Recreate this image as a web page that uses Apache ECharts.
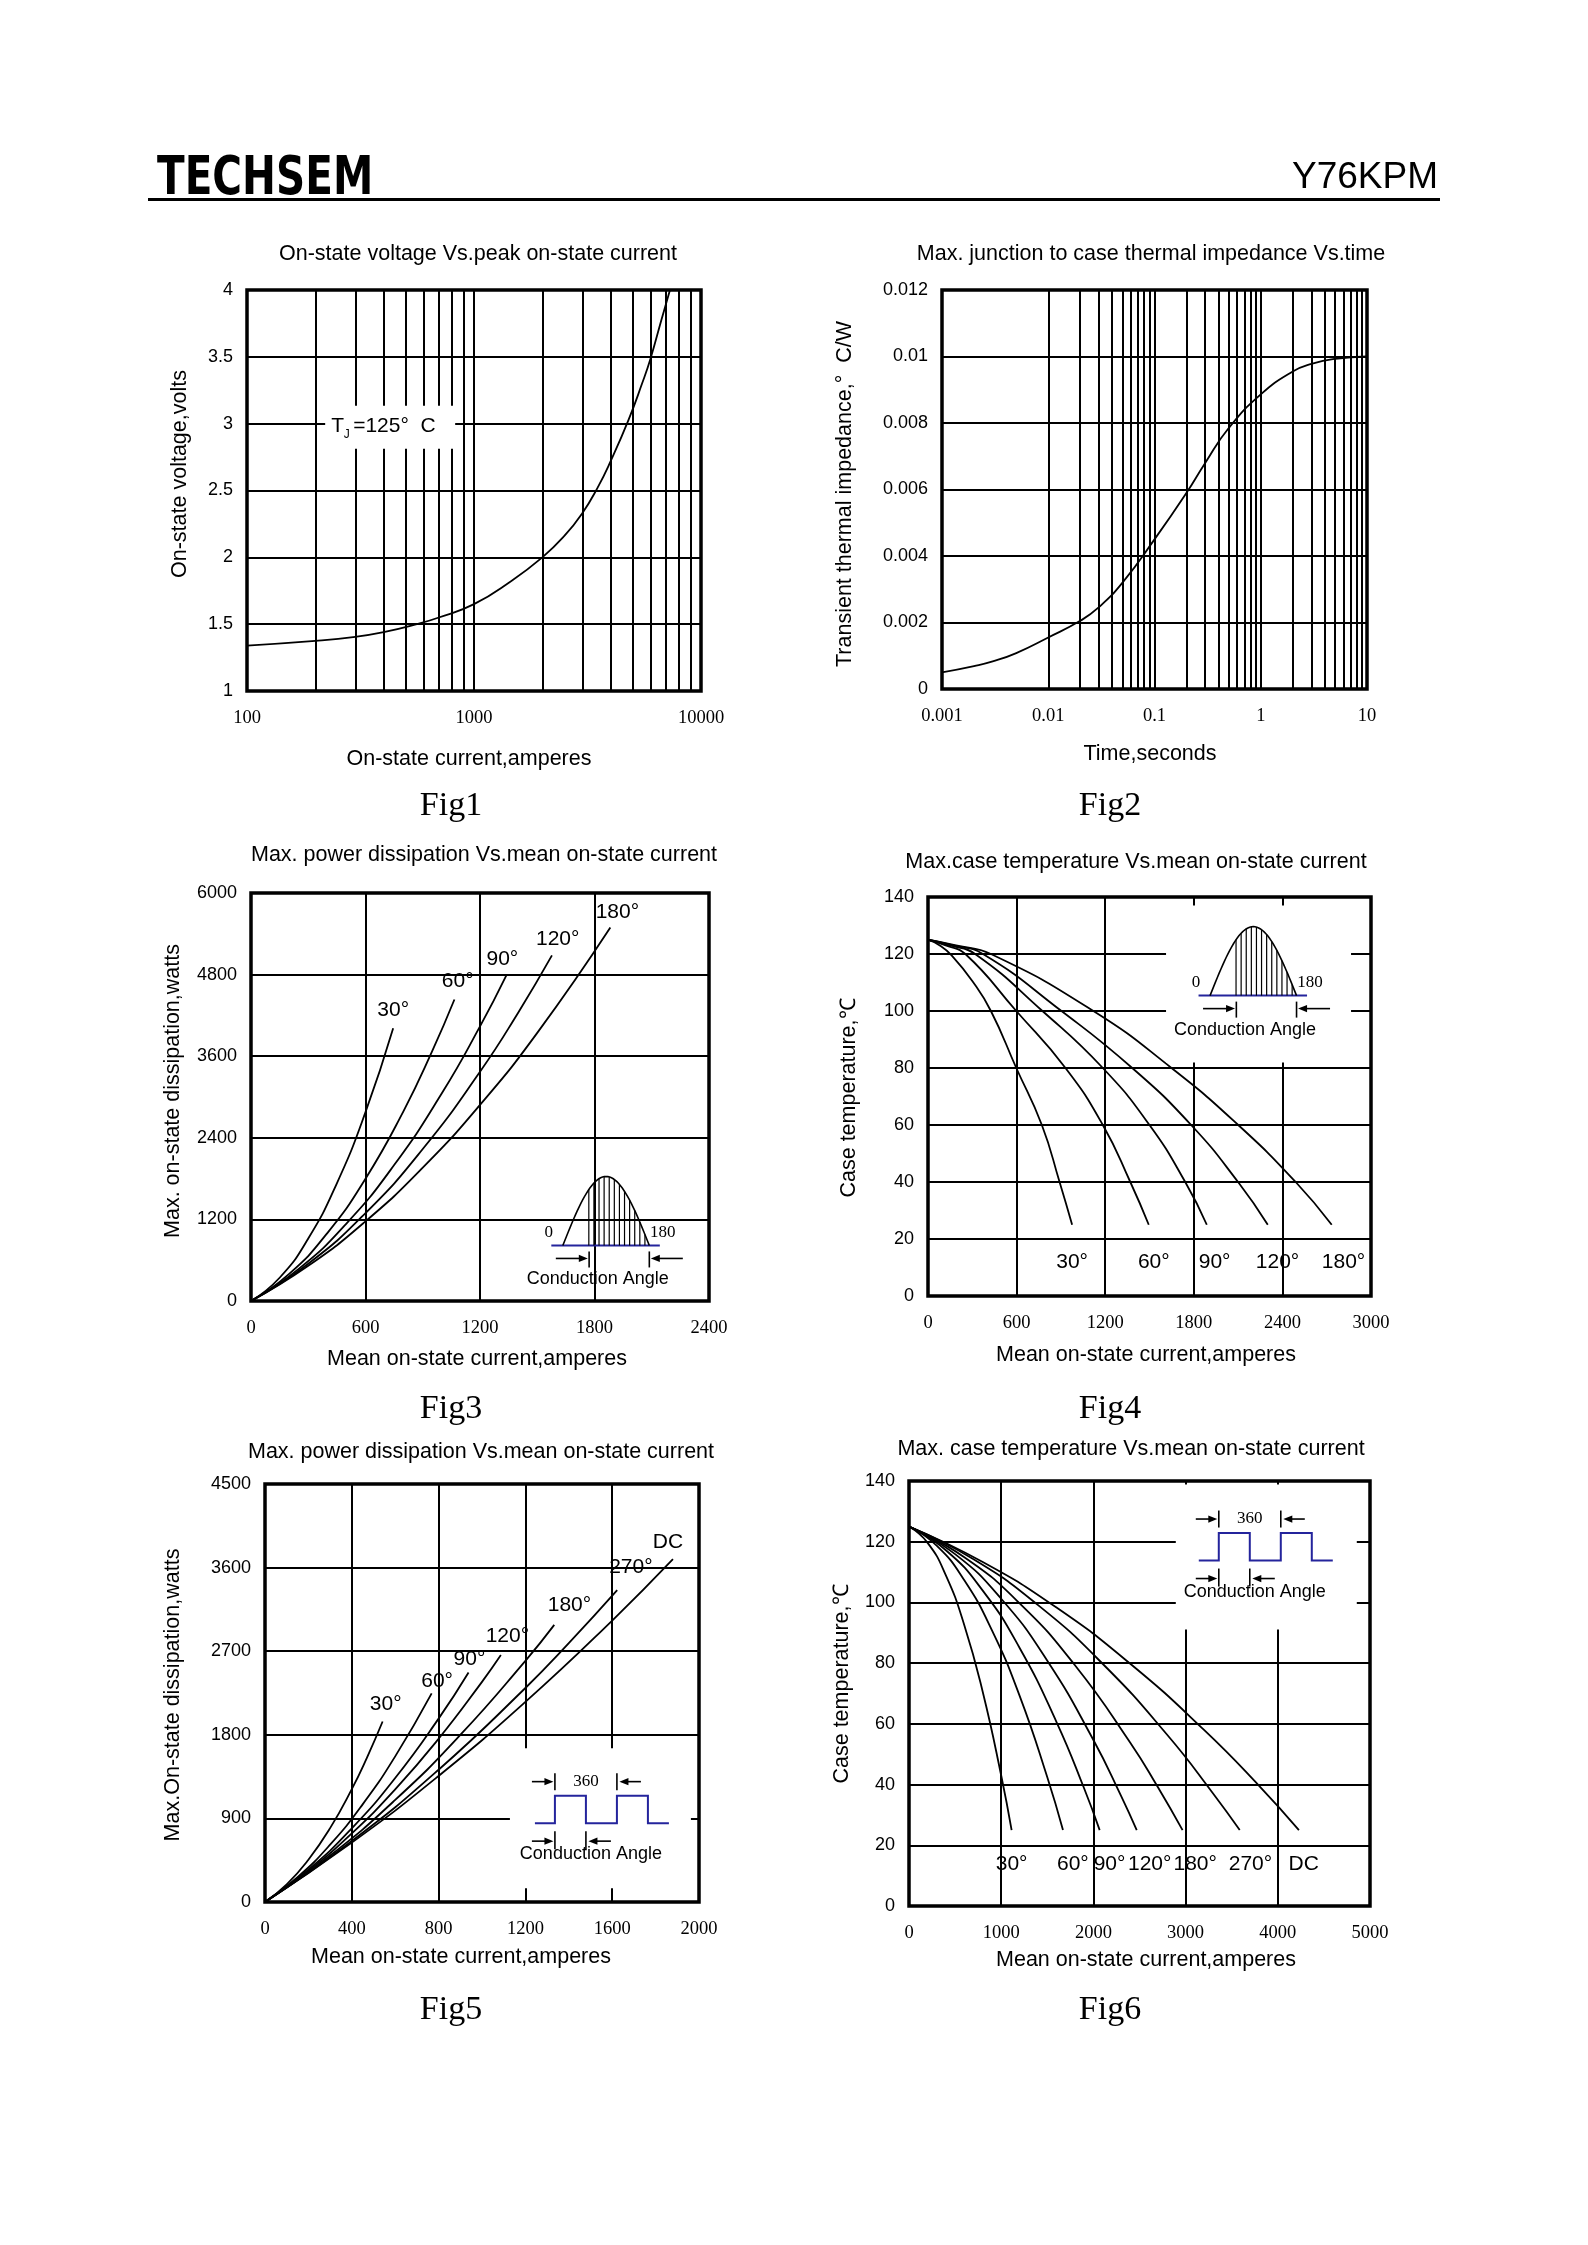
<!DOCTYPE html>
<html>
<head>
<meta charset="utf-8">
<script src="https://cdn.jsdelivr.net/npm/echarts@6/dist/echarts.min.js"></script>
<style>
html,body{margin:0;padding:0;background:#fff;}
#c{width:1588px;height:2245px;}
</style>
</head>
<body>
<div id="c"></div>
<script>
// ---------------- DATA ----------------
// Fig1: on-state voltage vs peak on-state current (log x)
const fig1Current = [100, 200, 300, 400, 560, 700, 1000, 1450, 2000, 2500, 3000, 3500, 4000, 4800, 5500, 6000, 6700, 7300];
const fig1Voltage = [1.34, 1.375, 1.405, 1.44, 1.50, 1.55, 1.65, 1.82, 2.00, 2.16, 2.33, 2.52, 2.72, 3.03, 3.30, 3.49, 3.78, 4.00];
const fig1XTicks = ['100', '1000', '10000'];
const fig1YTicks = ['1', '1.5', '2', '2.5', '3', '3.5', '4'];
const fig1MinorX = [200, 300, 400, 500, 600, 700, 800, 900, 2000, 3000, 4000, 5000, 6000, 7000, 8000, 9000];

// Fig2: transient thermal impedance vs time (log x)
const fig2Time = [0.001, 0.002, 0.003, 0.005, 0.01, 0.02, 0.03, 0.05, 0.1, 0.2, 0.3, 0.5, 1, 2, 3, 5, 10];
const fig2Z = [0.0005, 0.00069, 0.00083, 0.00108, 0.00155, 0.00205, 0.00246, 0.0032, 0.0045, 0.0059, 0.0068, 0.00785, 0.00886, 0.00955, 0.00978, 0.00993, 0.0100];
const fig2XTicks = ['0.001', '0.01', '0.1', '1', '10'];
const fig2YTicks = ['0', '0.002', '0.004', '0.006', '0.008', '0.01', '0.012'];
const fig2MinorX = [0.002, 0.003, 0.004, 0.005, 0.006, 0.007, 0.008, 0.009,
                    0.02, 0.03, 0.04, 0.05, 0.06, 0.07, 0.08, 0.09,
                    0.2, 0.3, 0.4, 0.5, 0.6, 0.7, 0.8, 0.9,
                    2, 3, 4, 5, 6, 7, 8, 9];

// Fig3: max power dissipation vs mean current (sine wave)
const fig3Names = ['30°', '60°', '90°', '120°', '180°'];
const fig3I30 = [0, 150, 300, 450, 600, 745];
const fig3P30 = [0, 342, 919, 1731, 2777, 4011];
const fig3I60 = [0, 200, 400, 600, 800, 950, 1066];
const fig3P60 = [0, 400, 999, 1798, 2797, 3677, 4434];
const fig3I90 = [0, 250, 500, 750, 1000, 1200, 1338];
const fig3P90 = [0, 472, 1139, 1999, 3054, 4038, 4789];
const fig3I120 = [0, 300, 600, 900, 1200, 1400, 1577];
const fig3P120 = [0, 548, 1293, 2235, 3372, 4240, 5082];
const fig3I180 = [0, 300, 600, 900, 1200, 1500, 1883];
const fig3P180 = [0, 518, 1171, 1960, 2884, 3943, 5493];
const fig3LabelI = [745, 1083, 1317, 1607, 1920];
const fig3LabelP = [4270, 4704, 5025, 5324, 5718];
const fig3XTicks = ['0', '600', '1200', '1800', '2400'];
const fig3YTicks = ['0', '1200', '2400', '3600', '4800', '6000'];

// Fig4: max case temperature vs mean current (sine wave)
const fig4Names = ['30°', '60°', '90°', '120°', '180°'];
const fig4I30 = [0, 80, 160, 300, 426, 598, 771, 891, 976];
const fig4T30 = [125, 123, 119.5, 110.5, 100, 80, 60, 40, 25];
const fig4I60 = [0, 120, 253, 598, 931, 1184, 1370, 1495];
const fig4T60 = [125, 123, 120, 100, 80, 60, 40, 25];
const fig4I90 = [0, 150, 319, 775, 1184, 1500, 1742, 1888];
const fig4T90 = [125, 123, 120, 100, 80, 60, 40, 25];
const fig4I120 = [0, 170, 372, 904, 1383, 1782, 2100, 2301];
const fig4T120 = [125, 123, 120, 100, 80, 60, 40, 25];
const fig4I180 = [0, 190, 426, 1120, 1649, 2101, 2490, 2734];
const fig4T180 = [125, 123, 120, 100, 80, 60, 40, 25];
const fig4LabelI = [976, 1529, 1941, 2367, 2814];
const fig4LabelT = [11.7, 11.7, 11.7, 11.7, 11.7];
const fig4XTicks = ['0', '600', '1200', '1800', '2400', '3000'];
const fig4YTicks = ['0', '20', '40', '60', '80', '100', '120', '140'];

// Fig5: max power dissipation vs mean current (square wave)
const fig5Names = ['30°', '60°', '90°', '120°', '180°', '270°', 'DC'];
const fig5I30 = [0, 100, 200, 300, 400, 470, 542];
const fig5P30 = [0, 190, 455, 795, 1215, 1555, 1943];
const fig5I60 = [0, 150, 300, 450, 600, 768];
const fig5P60 = [0, 267, 617, 1051, 1568, 2246];
const fig5I90 = [0, 200, 400, 600, 800, 938];
const fig5P90 = [0, 348, 793, 1335, 1974, 2471];
const fig5I120 = [0, 200, 400, 600, 800, 1000, 1087];
const fig5P120 = [0, 335, 739, 1213, 1757, 2370, 2658];
const fig5I180 = [0, 300, 600, 900, 1200, 1333];
const fig5P180 = [0, 500, 1099, 1798, 2596, 2983];
const fig5I270 = [0, 400, 800, 1200, 1400, 1623];
const fig5P270 = [0, 656, 1424, 2304, 2786, 3357];
const fig5IDC = [0, 400, 800, 1200, 1600, 1880];
const fig5PDC = [0, 639, 1357, 2154, 3030, 3690];
const fig5LabelI = [556, 793, 942, 1117, 1403, 1686, 1857];
const fig5LabelP = [2130, 2379, 2616, 2866, 3190, 3607, 3877];
const fig5XTicks = ['0', '400', '800', '1200', '1600', '2000'];
const fig5YTicks = ['0', '900', '1800', '2700', '3600', '4500'];

// Fig6: max case temperature vs mean current (square wave)
const fig6Names = ['30°', '60°', '90°', '120°', '180°', '270°', 'DC'];
const fig6I30 = [0, 200, 400, 600, 800, 1000, 1113];
const fig6T30 = [125, 119.7, 108.9, 92.5, 70.5, 43.0, 25];
const fig6I60 = [0, 300, 600, 900, 1200, 1500, 1670];
const fig6T60 = [125, 118.7, 107.3, 90.8, 69.2, 42.4, 25];
const fig6I90 = [0, 400, 800, 1200, 1600, 1900, 2068];
const fig6T90 = [125, 117.2, 103.9, 85.0, 60.6, 38.7, 25];
const fig6I120 = [0, 500, 1000, 1500, 2000, 2300, 2470];
const fig6T120 = [125, 115.9, 101.2, 80.8, 54.7, 36.3, 25];
const fig6I180 = [0, 600, 1200, 1800, 2400, 2700, 2967];
const fig6T180 = [125, 114.9, 99.7, 79.3, 53.8, 39.1, 25];
const fig6I270 = [0, 700, 1400, 2100, 2800, 3300, 3587];
const fig6T270 = [125, 114.2, 99.1, 79.8, 56.4, 37.0, 25];
const fig6IDC = [0, 800, 1600, 2400, 3200, 3800, 4229];
const fig6TDC = [125, 113.3, 98.3, 79.8, 58.0, 39.5, 25];
const fig6LabelI = [1113, 1777, 2175, 2611, 3104, 3703, 4281];
const fig6LabelT = [13.8, 13.8, 13.8, 13.8, 13.8, 13.8, 13.8];
const fig6XTicks = ['0', '1000', '2000', '3000', '4000', '5000'];
const fig6YTicks = ['0', '20', '40', '60', '80', '100', '120', '140'];

// texts
const headerLeft = 'TECHSEM';
const headerRight = 'Y76KPM';
const titles = [
  'On-state voltage Vs.peak on-state current',
  'Max. junction to case thermal impedance Vs.time',
  'Max. power dissipation Vs.mean on-state current',
  'Max.case temperature Vs.mean on-state current',
  'Max. power dissipation Vs.mean on-state current',
  'Max. case temperature Vs.mean on-state current'
];
const xNames = ['On-state current,amperes', 'Time,seconds', 'Mean on-state current,amperes',
  'Mean on-state current,amperes', 'Mean on-state current,amperes', 'Mean on-state current,amperes'];
const yNames = ['On-state voltage,volts', 'Transient thermal impedance,°  C/W', 'Max. on-state dissipation,watts',
  'Case temperature,℃', 'Max.On-state dissipation,watts', 'Case temperature,℃'];
const figNames = ['Fig1', 'Fig2', 'Fig3', 'Fig4', 'Fig5', 'Fig6'];

// ---------------- LAYOUT / STYLE ----------------
const FS = '"Liberation Sans", Arial, Helvetica, sans-serif';
const FR = '"Liberation Serif", "Times New Roman", "DejaVu Serif", serif';
const FN = '"Liberation Sans Narrow", "DejaVu Sans Condensed", "Liberation Sans", sans-serif';
const BLUE = '#24249c';
const GRID_W = 2;
const CURVE_W = 1.8;
const TITLE_SIZE = 21.5;
const NAME_SIZE = 21.5;
const FIG_SIZE = 34;

const grids = [
  { left: 247, top: 290, width: 454, height: 401 },
  { left: 942, top: 290, width: 425, height: 399 },
  { left: 251, top: 893, width: 458, height: 408 },
  { left: 928, top: 897, width: 443, height: 399 },
  { left: 265, top: 1484, width: 434, height: 418 },
  { left: 909, top: 1481, width: 461, height: 425 }
];
const titlePos = [[478, 254], [1151, 254], [484, 855], [1136, 862], [481, 1452], [1131, 1449]];
const xNamePos = [[469, 759], [1150, 754], [477, 1359], [1146, 1355], [461, 1957], [1146, 1960]];
const yNamePos = [[180, 474], [845, 494], [173, 1091], [849, 1098], [173, 1695], [842, 1684]];
const figPos = [[451, 806], [1110, 806], [451, 1409], [1110, 1409], [451, 2010], [1110, 2010]];

function zip(xs, ys) { return xs.map((x, i) => [x, ys[i]]); }

function mkGrid(g) {
  return Object.assign({ show: true, borderColor: '#000', borderWidth: 3.5, backgroundColor: 'transparent', containLabel: false }, g);
}
function xAx(gi, type, min, max, interval, labels) {
  const a = {
    gridIndex: gi, type: type, min: min, max: max,
    axisLine: { show: false }, axisTick: { show: false },
    splitLine: { show: true, lineStyle: { color: '#000', width: GRID_W } },
    axisLabel: { show: true, color: '#000', fontFamily: FR, fontSize: 18.5, margin: 18,
      showMinLabel: true, showMaxLabel: true,
      formatter: (v, i) => labels[i] !== undefined ? labels[i] : '' }
  };
  if (type === 'log') a.logBase = 10; else a.interval = interval;
  return a;
}
function yAx(gi, min, max, interval, labels) {
  return {
    gridIndex: gi, type: 'value', min: min, max: max, interval: interval,
    axisLine: { show: false }, axisTick: { show: false },
    splitLine: { show: true, lineStyle: { color: '#000', width: GRID_W } },
    axisLabel: { show: true, color: '#000', fontFamily: FS, fontSize: 18, margin: 14,
      showMinLabel: true, showMaxLabel: true,
      formatter: (v, i) => labels[i] !== undefined ? labels[i] : '' }
  };
}
function curve(gi, name, xs, ys, extra) {
  return Object.assign({
    type: 'line', name: name, xAxisIndex: gi, yAxisIndex: gi,
    data: zip(xs, ys), showSymbol: false, symbol: 'none', smooth: 0.5,
    lineStyle: { color: '#000', width: CURVE_W }, silent: true, animation: false, z: 5,
    emphasis: { disabled: true }
  }, extra || {});
}
function minorLines(vals) {
  return {
    silent: true, symbol: ['none', 'none'], label: { show: false }, animation: false,
    lineStyle: { color: '#000', width: GRID_W, type: 'solid' },
    emphasis: { disabled: true },
    data: vals.map(v => ({ xAxis: v }))
  };
}

const option = {
  backgroundColor: '#fff',
  animation: false,
  grid: grids.map(mkGrid),
  xAxis: [
    xAx(0, 'log', 100, 10000, null, fig1XTicks),
    xAx(1, 'log', 0.001, 10, null, fig2XTicks),
    xAx(2, 'value', 0, 2400, 600, fig3XTicks),
    xAx(3, 'value', 0, 3000, 600, fig4XTicks),
    xAx(4, 'value', 0, 2000, 400, fig5XTicks),
    xAx(5, 'value', 0, 5000, 1000, fig6XTicks)
  ],
  yAxis: [
    yAx(0, 1, 4, 0.5, fig1YTicks),
    yAx(1, 0, 0.012, 0.002, fig2YTicks),
    yAx(2, 0, 6000, 1200, fig3YTicks),
    yAx(3, 0, 140, 20, fig4YTicks),
    yAx(4, 0, 4500, 900, fig5YTicks),
    yAx(5, 0, 140, 20, fig6YTicks)
  ],
  series: [
    curve(0, 'VT', fig1Current, fig1Voltage, { markLine: minorLines(fig1MinorX) }),
    curve(1, 'Zth', fig2Time, fig2Z, { markLine: minorLines(fig2MinorX) }),
    curve(2, fig3Names[0], fig3I30, fig3P30),
    curve(2, fig3Names[1], fig3I60, fig3P60),
    curve(2, fig3Names[2], fig3I90, fig3P90),
    curve(2, fig3Names[3], fig3I120, fig3P120),
    curve(2, fig3Names[4], fig3I180, fig3P180),
    curve(3, fig4Names[0], fig4I30, fig4T30),
    curve(3, fig4Names[1], fig4I60, fig4T60),
    curve(3, fig4Names[2], fig4I90, fig4T90),
    curve(3, fig4Names[3], fig4I120, fig4T120),
    curve(3, fig4Names[4], fig4I180, fig4T180),
    curve(4, fig5Names[0], fig5I30, fig5P30),
    curve(4, fig5Names[1], fig5I60, fig5P60),
    curve(4, fig5Names[2], fig5I90, fig5P90),
    curve(4, fig5Names[3], fig5I120, fig5P120),
    curve(4, fig5Names[4], fig5I180, fig5P180),
    curve(4, fig5Names[5], fig5I270, fig5P270),
    curve(4, fig5Names[6], fig5IDC, fig5PDC),
    curve(5, fig6Names[0], fig6I30, fig6T30),
    curve(5, fig6Names[1], fig6I60, fig6T60),
    curve(5, fig6Names[2], fig6I90, fig6T90),
    curve(5, fig6Names[3], fig6I120, fig6T120),
    curve(5, fig6Names[4], fig6I180, fig6T180),
    curve(5, fig6Names[5], fig6I270, fig6T270),
    curve(5, fig6Names[6], fig6IDC, fig6TDC)
  ]
};

const chart = echarts.init(document.getElementById('c'), null, { renderer: 'canvas', width: 1588, height: 2245 });
chart.setOption(option);

// ---------------- ANNOTATIONS ----------------
const px = (g, pt) => chart.convertToPixel({ gridIndex: g }, pt);
const els = [];

function text(x, y, s, size, family, opts) {
  opts = opts || {};
  const el = {
    type: 'text', x: x, y: y, z: 60, silent: true, rotation: opts.rotation || 0,
    style: {
      text: s, fontSize: size, fontFamily: family, fontWeight: opts.weight || 'normal',
      fill: '#000', align: opts.align || 'center', verticalAlign: 'middle',
      textAlign: opts.align || 'center', textVerticalAlign: 'middle'
    }
  };
  if (opts.scaleX) el.scaleX = opts.scaleX;
  return el;
}
function line(x1, y1, x2, y2, color, w) {
  return { type: 'line', z: 60, silent: true, shape: { x1: x1, y1: y1, x2: x2, y2: y2 }, style: { stroke: color, lineWidth: w } };
}
function polyline(pts, color, w) {
  return { type: 'polyline', z: 60, silent: true, shape: { points: pts }, style: { stroke: color, fill: null, lineWidth: w } };
}
function rect(x, y, w, h) {
  return { type: 'rect', z: 55, silent: true, shape: { x: x, y: y, width: w, height: h }, style: { fill: '#fff', stroke: null } };
}
function arrow(x1, x2, y) {
  const dir = x2 > x1 ? 1 : -1;
  const out = [line(x1, y, x2 - dir * 6, y, '#000', 1.6)];
  out.push({ type: 'polygon', z: 60, silent: true,
    shape: { points: [[x2, y], [x2 - dir * 9, y - 3.6], [x2 - dir * 9, y + 3.6]] },
    style: { fill: '#000', stroke: null } });
  return out;
}

function sineInset(g, at, box) {
  const p = px(g, at); const ax = p[0], ay = p[1];
  if (box) els.push(rect(ax + box[0], ay + box[1], box[2], box[3]));
  els.push(line(ax - 11.5, ay, ax + 97, ay, BLUE, 2));
  const pts = [];
  for (let k = 0; k <= 48; k++) { const t = k / 48; pts.push([ax + 86.5 * t, ay - 69 * Math.sin(Math.PI * t)]); }
  els.push(polyline(pts, '#000', 1.6));
  for (let x = 26; x <= 84; x += 5.1) {
    const yt = ay - 69 * Math.sin(Math.PI * x / 86.5);
    els.push(line(ax + x, ay, ax + x, yt, '#000', 1.2));
  }
  els.push(text(ax - 14, ay - 13, '0', 17, FR));
  els.push(text(ax + 100, ay - 13, '180', 17, FR));
  arrow(ax - 7, ax + 25, ay + 13).forEach(e => els.push(e));
  els.push(line(ax + 26.3, ay + 6, ax + 26.3, ay + 22, '#000', 1.6));
  els.push(line(ax + 86.5, ay + 6, ax + 86.5, ay + 22, '#000', 1.6));
  arrow(ax + 120, ax + 88, ay + 13).forEach(e => els.push(e));
  els.push(text(ax + 35, ay + 34, 'Conduction Angle', 18, FS));
}

function squareInset(g, at, box) {
  const p = px(g, at); const ax = p[0], ay = p[1];
  if (box) els.push(rect(ax + box[0], ay + box[1], box[2], box[3]));
  const w = [[-20, 0], [0, 0], [0, -27.5], [31, -27.5], [31, 0], [62, 0], [62, -27.5], [93, -27.5], [93, 0], [114, 0]];
  els.push(polyline(w.map(q => [ax + q[0], ay + q[1]]), BLUE, 2));
  arrow(ax - 23, ax - 1.5, ay - 41.5).forEach(e => els.push(e));
  els.push(line(ax, ay - 50, ax, ay - 33, '#000', 1.6));
  els.push(line(ax + 62, ay - 50, ax + 62, ay - 33, '#000', 1.6));
  arrow(ax + 86, ax + 64.5, ay - 41.5).forEach(e => els.push(e));
  els.push(text(ax + 31, ay - 42, '360', 17, FR));
  arrow(ax - 23, ax - 1.5, ay + 18).forEach(e => els.push(e));
  els.push(line(ax, ay + 8, ax, ay + 26, '#000', 1.6));
  els.push(line(ax + 31, ay + 8, ax + 31, ay + 26, '#000', 1.6));
  arrow(ax + 56, ax + 33.5, ay + 18).forEach(e => els.push(e));
  els.push(text(ax + 36, ay + 31, 'Conduction Angle', 18, FS));
}

// header
els.push(text(157, 180, headerLeft, 53, FN, { align: 'left', weight: 'bold', scaleX: 0.85 }));
els.push(text(1438, 178, headerRight, 37, FS, { align: 'right' }));
els.push(line(148, 199.5, 1440, 199.5, '#000', 3));

// titles, axis names, figure names
for (let i = 0; i < 6; i++) {
  els.push(text(titlePos[i][0], titlePos[i][1], titles[i], TITLE_SIZE, FS));
  els.push(text(xNamePos[i][0], xNamePos[i][1], xNames[i], NAME_SIZE, FS));
  els.push(text(yNamePos[i][0], yNamePos[i][1], yNames[i], NAME_SIZE, FS, { rotation: Math.PI / 2 }));
  els.push(text(figPos[i][0], figPos[i][1], figNames[i], FIG_SIZE, FR));
}

// Fig1 TJ label
(function () {
  const p = px(0, [398, 3]); const ax = p[0] + 6, ay = p[1] + 3;
  els.push(rect(ax - 64, ay - 21, 130, 43));
  els.push(text(ax - 58, ay, 'T', 21, FS, { align: 'left' }));
  els.push(text(ax - 45.5, ay + 8, 'J', 12, FS, { align: 'left' }));
  els.push(text(ax - 36, ay, '=125°  C', 21, FS, { align: 'left' }));
})();

// curve labels
function curveLabels(g, names, xs, ys) {
  names.forEach((n, i) => { const p = px(g, [xs[i], ys[i]]); els.push(text(p[0], p[1], n, 21, FS)); });
}
curveLabels(2, fig3Names, fig3LabelI, fig3LabelP);
curveLabels(3, fig4Names, fig4LabelI, fig4LabelT);
curveLabels(4, fig5Names, fig5LabelI, fig5LabelP);
curveLabels(5, fig6Names, fig6LabelI, fig6LabelT);

// insets
sineInset(2, [1634, 817], null);
sineInset(3, [1910, 105.4], [-44, -90, 185, 157]);
squareInset(4, [1336, 849], [-45, -75, 181, 140]);
squareInset(5, [3360, 113.8], [-43, -76, 181, 145]);

chart.setOption({ graphic: { elements: els } });
</script>
</body>
</html>
